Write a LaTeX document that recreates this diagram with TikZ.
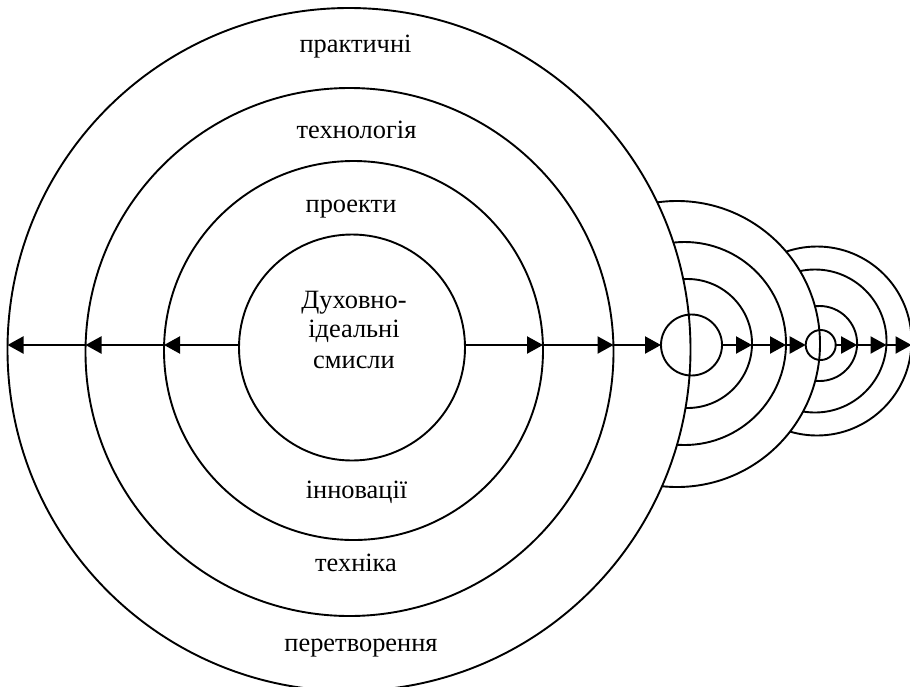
\documentclass[tikz,border=0pt]{standalone}
\usepackage{fontspec}
\setmainfont{Liberation Serif}
\usetikzlibrary{arrows.meta}
\tikzset{
  ring/.style={circle,draw=black,line width=1.9pt,fill=white,inner sep=0pt,outer sep=0pt,minimum size=#1},
  hollow/.style={circle,draw=black,line width=1.9pt,inner sep=0pt,outer sep=0pt,minimum size=#1},
  conn/.style={line width=2.2pt,draw=black,-{Triangle[length=16pt,width=17pt,fill=black]}},
  lab/.style={font=\fontsize{26.4}{30}\selectfont,inner sep=0pt,anchor=base,text=black}
}
\begin{document}
\begin{tikzpicture}[x=1pt,y=-1pt]
\useasboundingbox (0,0) rectangle (910,686);
\coordinate (row) at (0,345);
% third group
\node[ring=189pt] (cA) at (817,341) {};
\node[ring=143pt] (cB) at (815,341) {};
\node[ring=75pt] (cC) at (819.6,343.5) {};
% second group
\node[ring=286pt] (bA) at (677,344) {};
\node[ring=203pt] (bB) at (684.5,343.5) {};
\node[ring=129pt] (bC) at (687.5,343.5) {};
% first group
\node[ring=683pt] (aA) at (349,349.5) {};
\node[ring=528pt] (aB) at (349.5,352) {};
\node[ring=379pt] (aC) at (353.5,350.5) {};
\node[ring=226pt] (aD) at (352,347.5) {};
% small circles on top
\node[hollow=61pt] (bD) at (691.5,345) {};
\node[hollow=30pt] (cD) at (820.7,345) {};
% connectors
\draw[conn] (aD.west |- row) -- (aC.west |- row);
\draw[conn] (aC.west |- row) -- (aB.west |- row);
\draw[conn] (aB.west |- row) -- (aA.west |- row);
\draw[conn] (aD.east |- row) -- (aC.east |- row);
\draw[conn] (aC.east |- row) -- (aB.east |- row);
\draw[conn] (aB.east |- row) -- (bD.west);
\draw[conn] (bD.east) -- (bC.east |- row);
\draw[conn] (bC.east |- row) -- (bB.east |- row);
\draw[conn] (bB.east |- row) -- (cD.west);
\draw[conn] (cD.east) -- (cC.east |- row);
\draw[conn] (cC.east |- row) -- (cB.east |- row);
\draw[conn] (cB.east |- row) -- (cA.east |- row);
% labels
\node[lab] (t1) at (355.5,52) {практичні};
\node[lab] (t2) at (356.5,138) {технологія};
\node[lab] (t3) at (351,212) {проекти};
\node[lab] (t4a) at (354,308) {Духовно-};
\node[lab] (t4b) at (354,337.5) {ідеальні};
\node[lab] (t4c) at (354,368) {смисли};
\node[lab] (t5) at (356.5,498) {інновації};
\node[lab] (t6) at (356,571) {техніка};
\node[lab] (t7) at (361,651) {перетворення};
\end{tikzpicture}
\end{document}
